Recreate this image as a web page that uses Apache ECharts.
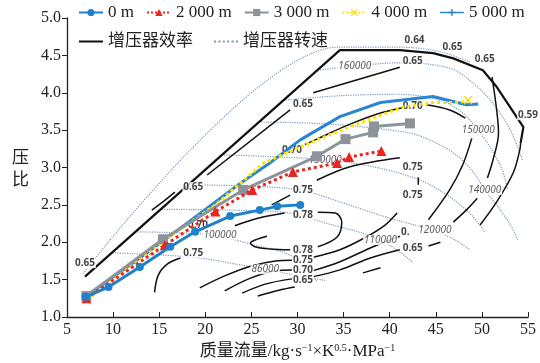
<!DOCTYPE html>
<html><head><meta charset="utf-8">
<script src="https://cdn.jsdelivr.net/npm/echarts/dist/echarts.min.js"></script>
<style>html,body{margin:0;padding:0;background:#fff}#c{width:540px;height:363px}</style>
</head><body><div id="c"></div>
<script>
// ---- operating lines (mass flow, pressure ratio) ----
const alt0    = [[7.0,1.27],[9.5,1.40],[12.9,1.67],[16.2,1.94],[18.9,2.14],[22.7,2.35],[25.9,2.43],[27.8,2.48],[30.3,2.50]];
const alt2000 = [[7.1,1.25],[15.6,1.96],[21.1,2.41],[25.1,2.70],[29.5,2.94],[34.3,3.06],[35.6,3.14],[39.1,3.22]];
const alt3000 = [[7.1,1.28],[15.4,2.04],[24.1,2.70],[32.1,3.15],[35.2,3.38],[38.2,3.47],[38.3,3.55],[42.2,3.59]];
const alt4000 = [[7.2,1.23],[15.6,2.03],[21.1,2.50],[26.3,3.06],[32.1,3.37],[35.4,3.53],[38.6,3.68],[41.5,3.81],[44.7,3.87],[47.6,3.87],[48.5,3.90]];
const alt5000 = [[7.2,1.29],[12.9,1.79],[18.1,2.26],[23.8,2.79],[27.0,3.06],[30.3,3.37],[34.6,3.68],[39.0,3.87],[44.7,3.95],[48.3,3.84],[49.6,3.85]];
const seriesNames = ['0 m','2 000 m','3 000 m','4 000 m','5 000 m'];
const mapNames = ['增压器效率','增压器转速'];

// ---- efficiency contours ----
const effSurge = [[6.95,1.54],[34.6,4.57],[41.1,4.57],[44.7,4.53],[46.9,4.46],[50.1,4.30],[51.6,4.08],[54.5,3.54],[54.2,3.33]];
const eff065a = [[14.2,2.43],[15.5,2.55],[16.7,2.67]];
const eff065b = [[20.2,2.90],[29.2,3.77]];
const eff065c = [[31.7,4.00],[41.1,4.34]];
const eff070a = [[30.8,3.31],[32.1,3.38],[35.7,3.58],[39.0,3.73],[41.4,3.80]];
const eff070b = [[44.0,3.84],[46.5,3.77],[48.2,3.66]];
const eff075a = [[32.1,2.83],[35.7,3.01],[41.1,3.13]];
const eff075b = [[27.2,2.50],[29.2,2.63]];
const eff075c = [[31.7,1.80],[34.6,1.90],[37.3,2.06],[39.5,2.23],[40.8,2.39]];
const eff075d = [[43.1,2.77],[43.1,2.87]];
const eff075e = [[14.5,1.33],[14.9,1.56],[15.9,1.71],[17.3,1.79]];
const eff075f = [[19.4,1.39],[22.1,1.55],[24.9,1.68],[27.6,1.75],[29.4,1.76]];
const eff078a = [[23.2,2.22],[25.7,2.32],[28.6,2.39]];
const eff078b = [[26.7,2.08],[25.4,2.03],[24.9,1.99],[25.4,1.94],[27.0,1.91],[29.2,1.90]];
const eff078c = [[32.2,2.40],[34.1,2.39],[34.8,2.27],[34.3,2.07],[32.2,1.94]];
const eff070c = [[22.1,1.35],[24.9,1.52],[27.6,1.62],[29.4,1.63]];
const eff065d = [[24.0,1.32],[26.5,1.44],[29.4,1.51]];
const eff060a = [[25.7,1.28],[28.1,1.36],[29.7,1.40]];
const eff070d = [[31.7,1.62],[34.6,1.74],[38.2,1.94],[41.1,2.08]];
const eff070e = [[44.2,2.30],[46.5,2.70],[47.9,3.03],[48.9,3.39]];
const eff065e = [[31.7,1.54],[34.6,1.63],[37.9,1.79],[41.1,1.90]];
const eff065f = [[44.2,1.95],[45.5,2.00]];
const eff065g = [[46.9,2.27],[48.3,2.43],[49.5,2.59]];
const eff065h = [[50.6,2.86],[51.2,3.10],[51.8,3.46],[51.6,3.77],[51.1,4.21]];
const eff060b = [[49.8,2.23],[51.6,2.54],[53.4,2.93],[54.1,3.23],[54.2,3.33]];
const eff0dash = [[37.1,1.59],[39.0,1.66]];

// ---- speed lines ----
const spdTop = [[6.74,1.58],[34.4,4.61],[41.1,4.61],[45.5,4.55],[48.7,4.41]];
const spd160 = [[32.2,4.30],[36.2,4.36],[41.1,4.40],[44.4,4.38],[47.1,4.30],[49.5,4.08],[51.2,3.86],[53.1,3.50],[54.4,3.10]];
const spd150 = [[28.5,3.90],[34.6,3.96],[41.1,3.98],[45.5,3.90],[47.8,3.74],[49.6,3.50],[51.1,3.23],[52.2,2.97],[52.8,2.70]];
const spd140 = [[25.8,3.61],[33.5,3.58],[42.2,3.46],[45.5,3.30],[47.6,3.13],[49.3,2.90],[50.3,2.70],[51.6,2.50],[53.1,2.23],[53.9,2.03]];
const spd130 = [[21.8,3.17],[28.1,3.14],[33.5,3.10],[39.0,2.99],[43.3,2.83],[46.5,2.61],[48.9,2.36],[50.3,2.14]];
const spd120 = [[18.1,2.77],[24.9,2.75],[30.3,2.70],[34.6,2.54],[39.0,2.36],[42.7,2.23],[44.7,2.16],[47.1,2.03],[48.7,1.90]];
const spd110 = [[15.3,2.44],[22.7,2.43],[29.2,2.39],[33.5,2.24],[37.1,2.12],[39.0,2.03],[41.1,1.87],[42.4,1.74]];
const spd100 = [[12.4,2.14],[18.3,2.12],[21.6,2.08],[25.4,1.96],[28.6,1.86],[30.8,1.70],[32.1,1.47]];
const spd86  = [[9.7,1.86],[15.1,1.83],[19.4,1.79],[23.2,1.71],[26.5,1.64],[29.7,1.56],[33.0,1.49]];

// ---- contour labels [x, y, text] ----
const effLabels = [[6.95,1.72,'0.65'],[18.7,2.74,'0.65'],[30.6,3.85,'0.65'],[42.5,4.42,'0.65'],[42.7,4.71,'0.64'],
  [46.8,4.61,'0.65'],[50.3,4.45,'0.65'],[55.0,3.70,'0.59'],[42.5,3.82,'0.70'],[29.4,3.23,'0.70'],[19.2,2.23,'0.70'],
  [30.6,2.70,'0.75'],[42.5,3.01,'0.75'],[42.5,2.63,'0.75'],[18.7,1.86,'0.75'],[30.6,2.36,'0.78'],[30.6,1.90,'0.78'],
  [30.6,1.76,'0.75'],[30.6,1.62,'0.70'],[30.6,1.49,'0.65'],[42.5,1.92,'0.65'],[41.7,2.14,'0.']];
const speedLabels = [[36.2,4.36,'160000'],[49.6,3.50,'150000'],[50.3,2.70,'140000'],[33.0,3.10,'130000'],
  [44.9,2.16,'120000'],[39.0,2.03,'110000'],[21.6,2.10,'100000'],[26.5,1.64,'86000']];

const effLines = [effSurge, eff065a, eff065b, eff065c, eff070a, eff070b, eff075a, eff075b, eff075c, eff075d, eff075e, eff075f,
  eff078a, eff078b, eff078c, eff070c, eff065d, eff060a, eff070d, eff070e, eff065e, eff065f, eff065g, eff065h, eff060b, eff0dash];
const spdLines = [spdTop, spd160, spd150, spd140, spd130, spd120, spd110, spd100, spd86];

const serifFont = "'Liberation Serif', 'Noto Sans CJK SC', serif";
const sansFont = "'Noto Sans', sans-serif";
const xSym = 'path://M1,0L5,4L9,0L10,1L6,5L10,9L9,10L5,6L1,10L0,9L4,5L0,1Z';
const plusSym = 'path://M4,0H6V4H10V6H6V10H4V6H0V4H4Z';
const effColor = '#111';
const spdColor = '#7f9aba';

const series = [];
spdLines.forEach(d => series.push({name:mapNames[1], type:'line', data:d, symbol:'none', smooth:0.3, silent:true, z:1,
  itemStyle:{color:spdColor}, lineStyle:{color:spdColor, width:1.2, type:'dotted'}}));
effLines.forEach(d => series.push({name:mapNames[0], type:'line', data:d, symbol:'none', smooth: d===effSurge?false:0.35, silent:true, z:2,
  itemStyle:{color:effColor}, lineStyle:{color:effColor, width: d===effSurge?2.2:1.5}}));
series.push({type:'scatter', data: effLabels.map(a=>({value:[a[0],a[1]], name:a[2]})), symbolSize:1, silent:true, z:3,
  itemStyle:{color:'rgba(0,0,0,0)'},
  label:{show:true, position:'inside', formatter:'{b}', fontSize:10, fontWeight:'bold', fontFamily:sansFont, color:'#111', backgroundColor:'#fff', padding:[0,1]}});
series.push({type:'scatter', data: speedLabels.map(a=>({value:[a[0],a[1]], name:a[2]})), symbolSize:1, silent:true, z:3,
  itemStyle:{color:'rgba(0,0,0,0)'},
  label:{show:true, position:'inside', formatter:'{b}', fontSize:10, fontStyle:'italic', fontFamily:sansFont, color:'#333', backgroundColor:'#fff', padding:[0,1]}});

series.push({name:seriesNames[4], type:'line', data:alt5000, symbol:plusSym, symbolSize:7, showSymbol:false, z:5,
  lineStyle:{color:'#2a86d0', width:3}, itemStyle:{color:'#2a86d0'}});
series.push({name:seriesNames[3], type:'line', z:6, symbol:xSym, symbolSize:9,
  data: alt4000.map((p,i)=> (i===0||i===alt4000.length-1) ? {value:p} : {value:p, symbol:'none'}),
  lineStyle:{color:'#ffe400', width:3, type:'dotted'}, itemStyle:{color:'#f5d800'}});
series.push({name:seriesNames[2], type:'line', data:alt3000, symbol:'rect', symbolSize:10, z:7,
  lineStyle:{color:'#8c9399', width:3}, itemStyle:{color:'#8c9399'}});
series.push({name:seriesNames[1], type:'line', data:alt2000, symbol:'triangle', symbolSize:10, z:8,
  lineStyle:{color:'#e8251f', width:3, type:'dotted'}, itemStyle:{color:'#e8251f'}});
series.push({name:seriesNames[0], type:'line', data:alt0, symbol:'circle', symbolSize:8, z:9,
  lineStyle:{color:'#1f80cc', width:3}, itemStyle:{color:'#1f80cc'}});

const legendText = {fontFamily:serifFont, fontSize:17, color:'#222'};
const chart = echarts.init(document.getElementById('c'), null, {renderer:'canvas'});
chart.setOption({
  animation:false,
  backgroundColor:'#fff',
  grid:{left:67, right:12, top:18, bottom:46, containLabel:false, outerBoundsMode:'none'},
  legend:[
    {data:seriesNames.map((n,i)=> i===4 ? {name:n, lineStyle:{width:1.5}} : (i===0 ? {name:n, lineStyle:{width:2}} : n)),
     left:78, top:4, width:462, itemGap:12, itemWidth:24, itemHeight:9, selectedMode:false, padding:0,
     textStyle:legendText},
    {data:[{name:mapNames[0], icon:'path://M0,4H24V6H0Z', itemStyle:{color:effColor}},
           {name:mapNames[1], icon:'path://M0,4h2v2h-2zM4,4h2v2h-2zM8,4h2v2h-2zM12,4h2v2h-2zM16,4h2v2h-2zM20,4h2v2h-2z', itemStyle:{color:spdColor}}],
     left:79, top:33, itemGap:21, itemWidth:24, itemHeight:10, selectedMode:false, padding:0,
     textStyle:legendText}
  ],
  xAxis:{type:'value', min:5, max:55, interval:5,
    axisLine:{show:true, lineStyle:{color:'#222', width:1.3}},
    axisTick:{show:true, inside:true, length:5, lineStyle:{color:'#222'}},
    splitLine:{show:false},
    axisLabel:{color:'#222', fontSize:16, fontFamily:serifFont, margin:5},
    name:'质量流量/kg·s{sup|−1}×K{sup|0.5}·MPa{sup|−1}', nameLocation:'middle', nameGap:26,
    nameTextStyle:{color:'#222', fontSize:17, fontFamily:serifFont,
      rich:{sup:{fontSize:10, fontFamily:serifFont, color:'#222', verticalAlign:'top', padding:[0,0,8,0]}}}
  },
  yAxis:{type:'value', min:1, max:5, interval:0.5,
    axisLine:{show:true, lineStyle:{color:'#222', width:1.3}},
    axisTick:{show:true, inside:false, length:5, lineStyle:{color:'#222'}},
    splitLine:{show:false},
    axisLabel:{color:'#222', fontSize:16, fontFamily:serifFont, margin:6, formatter:v=>v.toFixed(1)},
    name:'压\n比', nameLocation:'middle', nameRotate:0, nameGap:38,
    nameTextStyle:{color:'#222', fontSize:17, fontFamily:"'Noto Sans CJK SC'", lineHeight:22, padding:[0,0,10,0]}
  },
  series: series
});
</script></body></html>
